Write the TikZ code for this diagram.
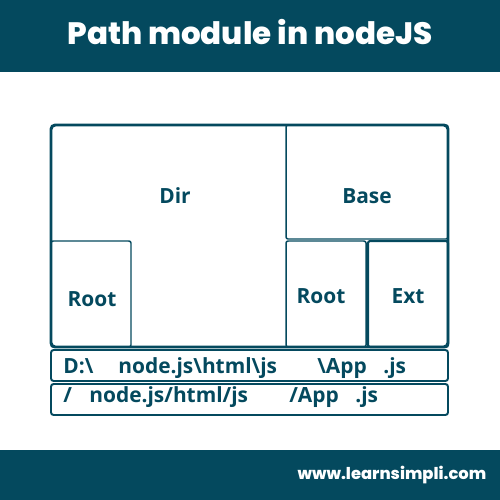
\documentclass[tikz,border=0pt]{standalone}
\usepackage{fontspec}
\setmainfont{Open Sans}
\newfontfamily\headfont{Poppins}[BoldFont={* ExtraBold}]
\definecolor{lsblue}{RGB}{4,73,94}
\tikzset{bx/.style = {draw=lsblue, line width=0.85pt, rounded corners=1.2pt},
         ob/.style = {draw=lsblue, line width=1.7pt, rounded corners=2.4pt},
         rw/.style = {draw=lsblue, line width=1.1pt, rounded corners=1.5pt},
         lb/.style = {text=lsblue, inner sep=0pt, font=\bfseries\fontsize{11.9}{14}\selectfont},
         tx/.style = {lb, anchor=base west}}

\begin{document}
\begin{tikzpicture}[x=0.2mm, y=-0.2mm]
    \useasboundingbox (0,0) rectangle (500,500);
    % banners
    \fill[lsblue] (0,0) rectangle (500,72);
    \fill[lsblue] (0,450) rectangle (500,500);
    \node[text=white, inner sep=0pt, anchor=base, font=\headfont\bfseries\fontsize{17.6}{20}\selectfont] (title) at (250,44) {Path module in nodeJS};
    \node[text=white, inner sep=0pt, anchor=base, font=\headfont\bfseries\fontsize{9.3}{11}\selectfont] (site) at (392,479) {www.learnsimpli.com};
    % parts of the path
    \draw[bx] (286,125) rectangle (448,239);
    \draw[bx] (51,241) rectangle (131,347);
    \draw[bx] (286,241) rectangle (366,347);
    \draw[bx, line width=1.2pt] (368,241) rectangle (448,347);
    \draw[ob] (51,125) rectangle (448,347);
    \node[lb, anchor=base] (dir) at (175,203) {Dir};
    \node[lb, anchor=base] (base) at (367,203) {Base};
    \node[lb, anchor=base] (rootl) at (92,306) {Root};
    \node[lb, anchor=base] (rootr) at (321,303) {Root};
    \node[lb, anchor=base] (ext) at (408,303) {Ext};
    % windows and posix rows
    \draw[rw] (51,350) rectangle (448,381);
    \draw[rw] (51,384) rectangle (448,415);
    \node[tx] (wroot) at (63,373) {D:\textbackslash};
    \node[tx] (wdir) at (118,373) {node.js\textbackslash html\textbackslash js};
    \node[tx] (wname) at (317,373) {\textbackslash App};
    \node[tx] (wext) at (383,373) {.js};
    \node[tx] (proot) at (63,402.5) {/};
    \node[tx] (pdir) at (89,402.5) {node.js/html/js};
    \node[tx] (pname) at (289,402.5) {/App};
    \node[tx] (pext) at (355,402.5) {.js};
\end{tikzpicture}
\end{document}
